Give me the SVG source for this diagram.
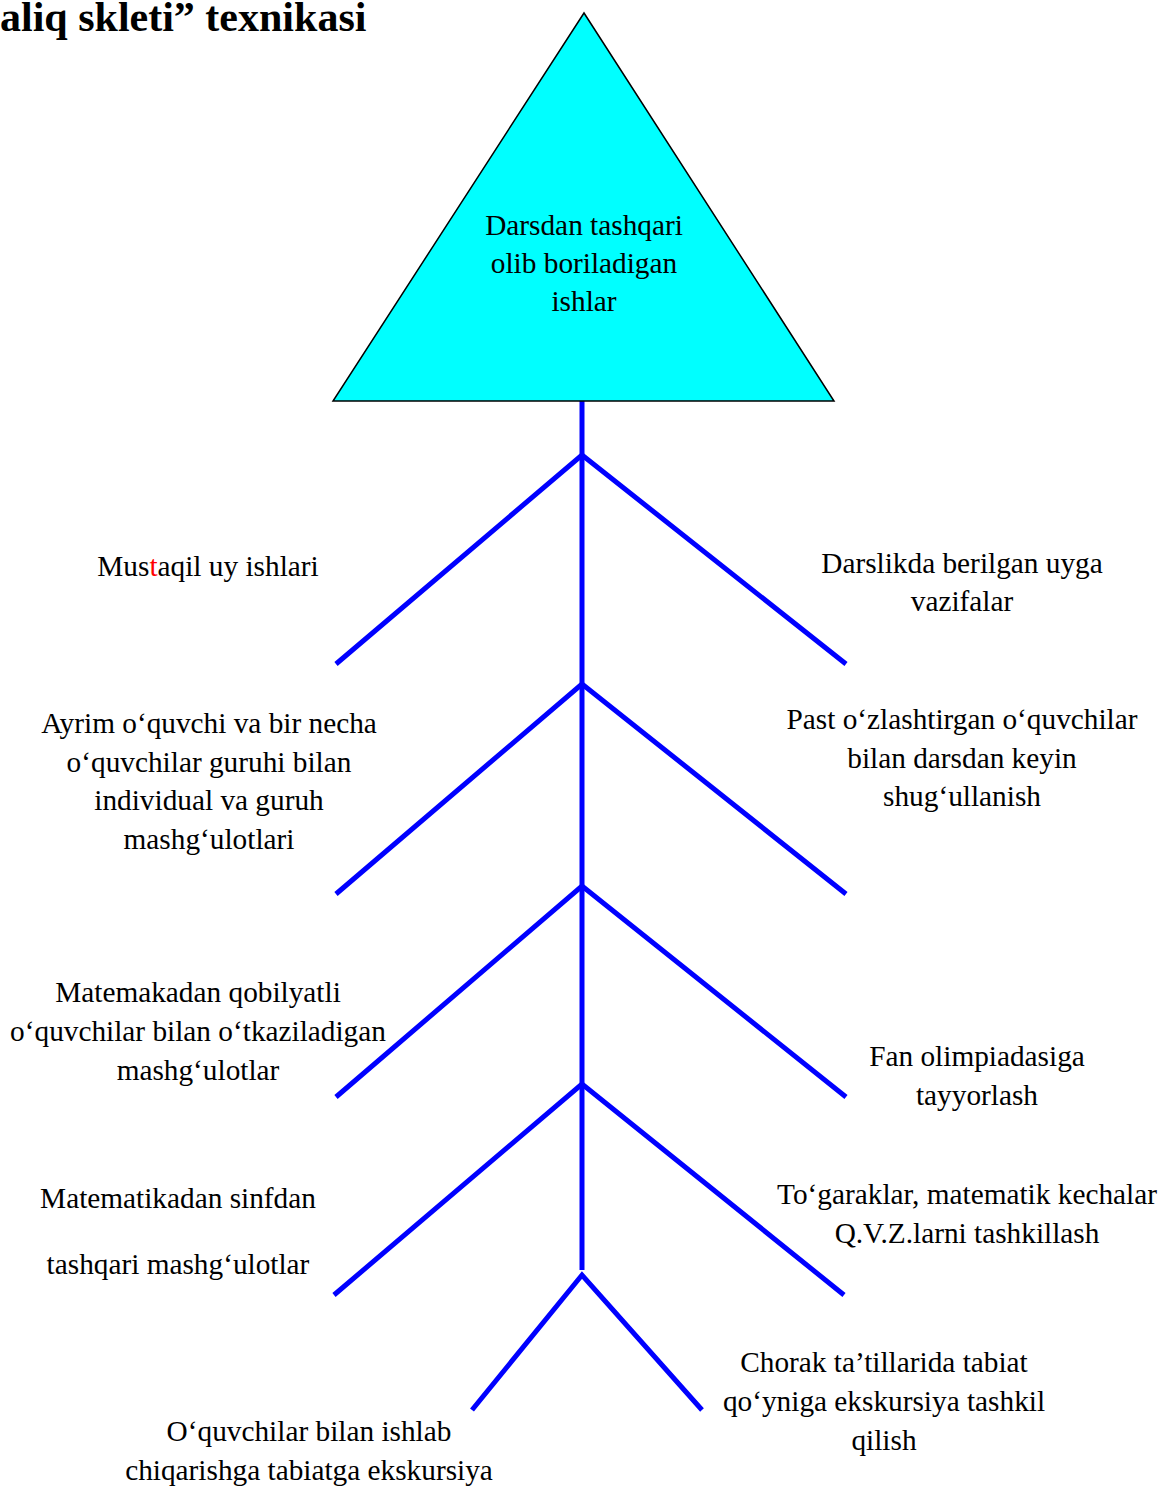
<svg xmlns="http://www.w3.org/2000/svg" width="1164" height="1486" viewBox="0 0 1164 1486">
<style>
text{font-family:"Liberation Serif","Times New Roman",serif;font-size:29.3px;fill:#000;text-anchor:middle}
.title{font-weight:bold;font-size:42px;text-anchor:start}
.br{stroke:#0000ff;stroke-width:5;fill:none;stroke-linecap:butt}
.red{fill:#ff0000}
</style>
<rect width="1164" height="1486" fill="#fff"/>
<text class="title" x="0" y="31">aliq skleti” texnikasi</text>
<g id="connectors">
<line class="br" x1="582" y1="398" x2="582" y2="1270"/>
<polyline class="br" points="336,664 582,455 846,664"/>
<polyline class="br" points="336,894 582,684 846,894"/>
<polyline class="br" points="336,1097 582,886 846,1097"/>
<polyline class="br" points="334,1295 582,1084 844,1295"/>
<polyline class="br" points="472,1410 582,1275 702,1410"/>
</g>
<g id="root">
<polygon points="584,13 333,401 834,401" fill="#00ffff" stroke="#000" stroke-width="1.5"/>
<text x="584" y="235">Darsdan tashqari</text>
<text x="584" y="273">olib boriladigan</text>
<text x="584" y="311">ishlar</text>
</g>
<g id="n1"><text x="208" y="576">Mus<tspan class="red">t</tspan>aqil uy ishlari</text></g>
<g id="n2"><text x="962" y="573">Darslikda berilgan uyga</text><text x="962" y="611">vazifalar</text></g>
<g id="n3"><text x="209" y="733">Ayrim o‘quvchi va bir necha</text><text x="209" y="772">o‘quvchilar guruhi bilan</text><text x="209" y="810">individual va guruh</text><text x="209" y="849">mashg‘ulotlari</text></g>
<g id="n4"><text x="962" y="729">Past o‘zlashtirgan o‘quvchilar</text><text x="962" y="768">bilan darsdan keyin</text><text x="962" y="806">shug‘ullanish</text></g>
<g id="n5"><text x="198" y="1002">Matemakadan qobilyatli</text><text x="198" y="1041">o‘quvchilar bilan o‘tkaziladigan</text><text x="198" y="1080">mashg‘ulotlar</text></g>
<g id="n6"><text x="977" y="1066">Fan olimpiadasiga</text><text x="977" y="1105">tayyorlash</text></g>
<g id="n7"><text x="178" y="1208">Matematikadan sinfdan</text><text x="178" y="1274">tashqari mashg‘ulotlar</text></g>
<g id="n8"><text x="967" y="1204">To‘garaklar, matematik kechalar</text><text x="967" y="1243">Q.V.Z.larni tashkillash</text></g>
<g id="n9"><text x="884" y="1372">Chorak ta’tillarida tabiat</text><text x="884" y="1411">qo‘yniga ekskursiya tashkil</text><text x="884" y="1450">qilish</text></g>
<g id="n10"><text x="309" y="1441">O‘quvchilar bilan ishlab</text><text x="309" y="1480">chiqarishga tabiatga ekskursiya</text></g>
</svg>
